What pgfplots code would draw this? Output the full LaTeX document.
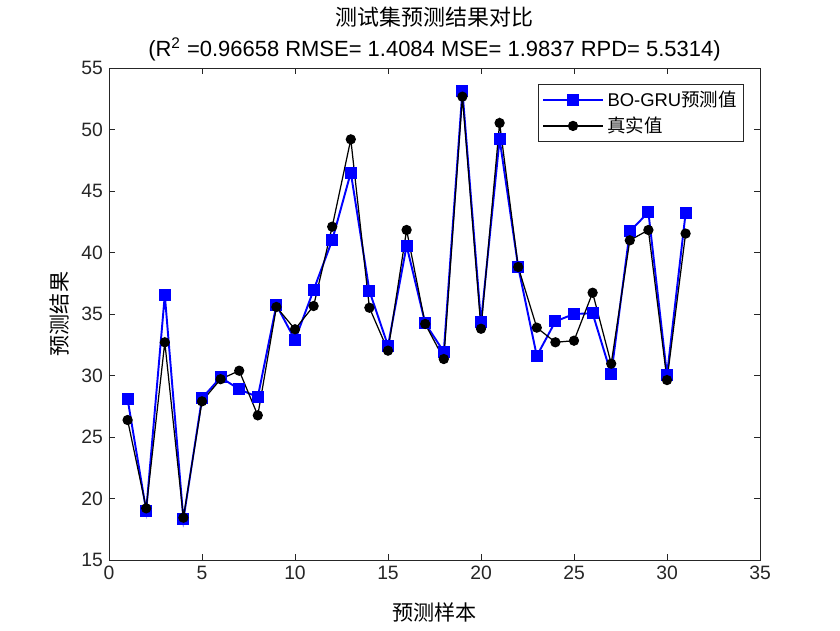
\documentclass[border=0pt]{standalone}
\usepackage{fontspec}
\setmainfont{Liberation Sans}
\newfontfamily\cjk{Noto Sans CJK SC}
\usepackage{pgfplots}
\pgfplotsset{compat=1.18}
\definecolor{axgray}{rgb}{0.15,0.15,0.15}

\begin{document}
\begin{tikzpicture}
\begin{axis}[
    name=ax,
    scale only axis,
    width=13.02cm,
    height=9.84cm,
    xmin=0, xmax=35,
    ymin=15, ymax=55,
    xtick={0,5,...,35},
    ytick={15,20,...,55},
    tick align=inside,
    major tick length=0.12cm,
    axis line style={axgray, line width=0.5pt},
    tick style={axgray, line width=0.5pt},
    tick label style={font=\fontsize{11}{13}\selectfont, text=axgray},
    /pgf/number format/assume math mode=true,
    title style={align=center, font=\fontsize{12.5}{17.6}\selectfont, yshift=-5.5pt},
    title={{\cjk 测试集预测结果对比}\\(R\textsuperscript{2} =0.96658 RMSE= 1.4084 MSE= 1.9837 RPD= 5.5314)},
    xlabel={\cjk 预测样本},
    ylabel={\cjk 预测结果},
    label style={font=\fontsize{12}{14}\selectfont},
    xlabel style={yshift=-0.22cm},
    legend cell align=left,
    legend style={at={(0.9755,0.967)}, anchor=north east, draw=axgray,
        font=\fontsize{10.5}{12}\selectfont, row sep=0.5pt, inner xsep=2pt, inner ysep=1.5pt},
    legend image code/.code={
        \draw[#1] (0cm,0cm) -- (1.2cm,0cm);
        \draw[#1, mark repeat=2, mark phase=2] plot coordinates {(0cm,0cm) (0.6cm,0cm) (1.2cm,0cm)};
    },
]
\addplot[blue, line width=1.1pt, mark=square*, mark size=0.1cm, mark options={solid, fill=blue}]
coordinates {
(1,28.09) (2,19.0) (3,36.54) (4,18.3) (5,28.15) (6,29.85) (7,28.88) (8,28.25)
(9,35.73) (10,32.89) (11,36.95) (12,41.0) (13,46.5) (14,36.87) (15,32.42)
(16,40.55) (17,34.24) (18,31.93) (19,53.15) (20,34.32) (21,49.23) (22,38.82)
(23,31.59) (24,34.4) (25,35.0) (26,35.06) (27,30.1) (28,41.72) (29,43.27)
(30,30.04) (31,43.2)
};
\addlegendentry{BO-GRU{\cjk 预测值}}
\addplot[black, line width=0.7pt, mark=*, mark size=0.09cm, mark options={solid, fill=black}]
coordinates {
(1,26.38) (2,19.2) (3,32.7) (4,18.44) (5,27.9) (6,29.7) (7,30.39) (8,26.76)
(9,35.57) (10,33.76) (11,35.65) (12,42.1) (13,49.2) (14,35.51) (15,32.02)
(16,41.83) (17,34.19) (18,31.34) (19,52.67) (20,33.8) (21,50.53) (22,38.82)
(23,33.89) (24,32.7) (25,32.83) (26,36.73) (27,30.96) (28,40.99) (29,41.83)
(30,29.63) (31,41.54)
};
\addlegendentry{{\cjk 真实值}}
\end{axis}
\pgfresetboundingbox
\path (ax.south west) ++(-2.18cm,-1.40cm) rectangle ++(16.8cm,12.6cm);
\end{tikzpicture}
\end{document}
